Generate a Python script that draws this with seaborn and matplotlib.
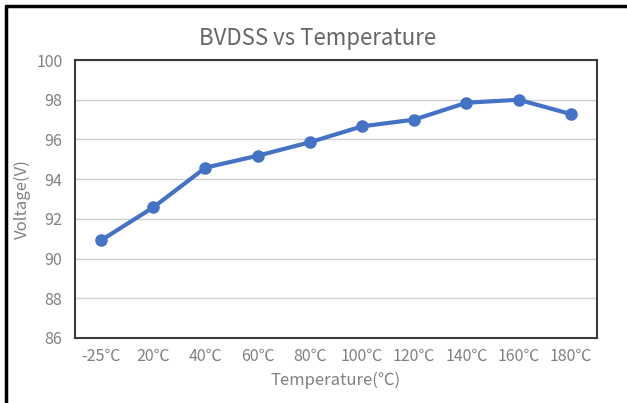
import matplotlib.pyplot as plt
import pandas as pd
import seaborn as sns
from matplotlib.lines import Line2D

# Data
temperatures = ["-25℃", "20℃", "40℃", "60℃", "80℃", "100℃", "120℃", "140℃", "160℃", "180℃"]
voltages = [90.92, 92.58, 94.58, 95.18, 95.86, 96.66, 97.0, 97.85, 98.0, 97.28]
y_ticks = [86, 88, 90, 92, 94, 96, 98, 100]

df = pd.DataFrame({"Temperature": temperatures, "Voltage": voltages})

sns.set_style("white")
plt.rcParams["font.family"] = ["Noto Sans CJK SC", "DejaVu Sans"]

title_gray = "#666666"
text_gray = "#808080"
line_blue = "#4472C4"

fig = plt.figure(figsize=(6.27, 4.03), dpi=100)
ax = fig.add_axes([0.1196, 0.1613, 0.8324, 0.6897])

sns.pointplot(data=df, x="Temperature", y="Voltage", color=line_blue,
              markers="o", linestyles="-", ax=ax)
for line in ax.lines:
    line.set_linewidth(3)
    line.set_markersize(7)
    line.set_zorder(3)

ax.set_xlim(-0.5, len(temperatures) - 0.5)
ax.set_ylim(86, 100)
ax.set_yticks(y_ticks)
ax.yaxis.grid(True, color="#d0d0d0", linewidth=1)
ax.set_axisbelow(True)

for side in ["left", "right", "top", "bottom"]:
    ax.spines[side].set_visible(True)
    ax.spines[side].set_color("#3a3a3a")
    ax.spines[side].set_linewidth(1.5)

ax.tick_params(axis="x", length=0, labelsize=11.5, labelcolor=text_gray, pad=7)
ax.tick_params(axis="y", length=0, labelsize=11.5, labelcolor=text_gray, pad=9)
fig.text(0.506, 0.905, "BVDSS vs Temperature", fontsize=16, color=title_gray,
         ha="center", va="center")
ax.set_xlabel("Temperature(℃)", fontsize=12, color=text_gray, labelpad=5)
ax.set_ylabel("Voltage(V)", fontsize=12, color=text_gray, labelpad=4)

# screenshot frame on the left and top edges
fig.add_artist(Line2D([0.009, 0.009], [0, 0.985], transform=fig.transFigure,
                      color="black", linewidth=2.5))
fig.add_artist(Line2D([0.009, 1.0], [0.985, 0.985], transform=fig.transFigure,
                      color="black", linewidth=2.5))

fig.savefig("out.png", dpi=100)
